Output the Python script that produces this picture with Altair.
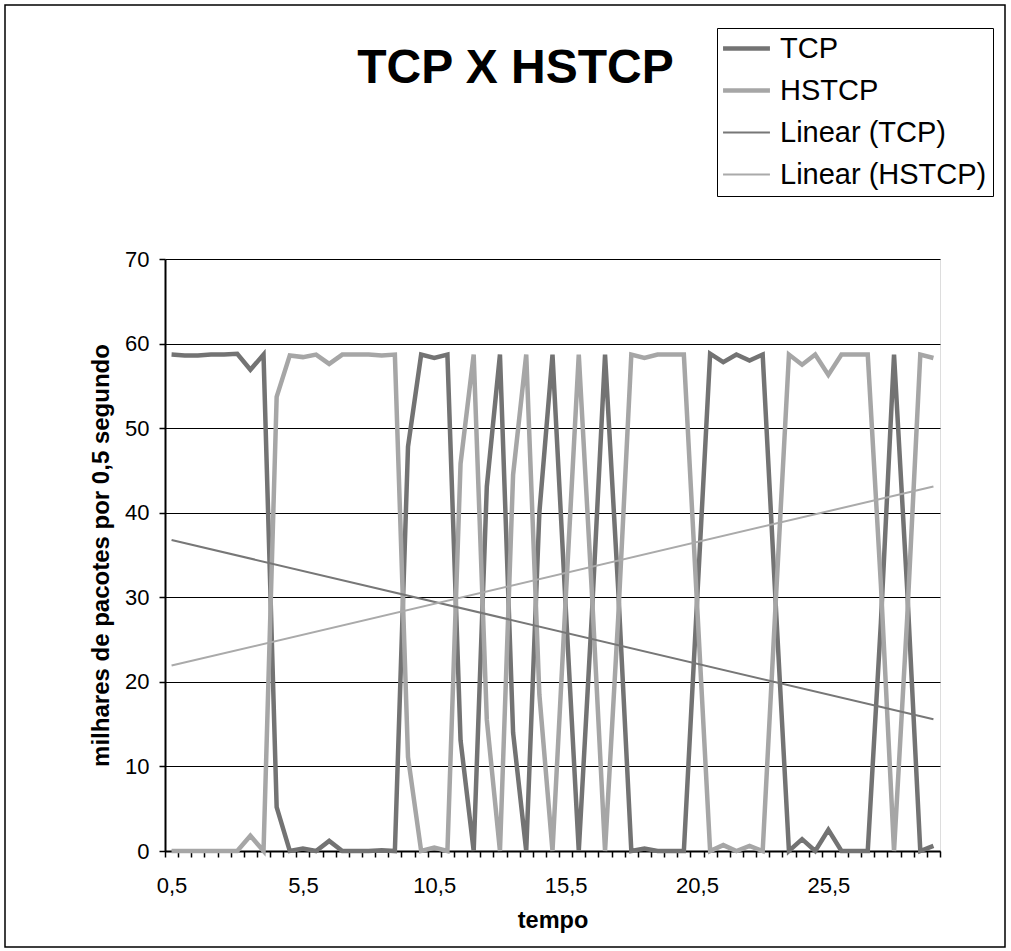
import altair as alt
import pandas as pd

# categories (tempo, seconds)
tempo = [0.5, 1.0, 1.5, 2.0, 2.5, 3.0, 3.5, 4.0, 4.5, 5.0,
         5.5, 6.0, 6.5, 7.0, 7.5, 8.0, 8.5, 9.0, 9.5, 10.0,
         10.5, 11.0, 11.5, 12.0, 12.5, 13.0, 13.5, 14.0, 14.5, 15.0,
         15.5, 16.0, 16.5, 17.0, 17.5, 18.0, 18.5, 19.0, 19.5, 20.0,
         20.5, 21.0, 21.5, 22.0, 22.5, 23.0, 23.5, 24.0, 24.5, 25.0,
         25.5, 26.0, 26.5, 27.0, 27.5, 28.0, 28.5, 29.0, 29.5]

tcp = [58.7, 58.6, 58.6, 58.7, 58.7, 58.8, 56.9, 58.7, 5.2, 0.0,
       0.3, 0.0, 1.2, 0.0, 0.0, 0.0, 0.1, 0.0, 47.8, 58.7,
       58.3, 58.7, 13.1, 0.0, 43.1, 58.7, 14.0, 0.0, 40.0, 58.7,
       29.0, 0.0, 28.0, 58.7, 31.0, 0.0, 0.3, 0.0, 0.0, 0.0,
       29.4, 58.8, 57.8, 58.7, 58.0, 58.7, 29.0, 0.0, 1.4, 0.0,
       2.5, 0.0, 0.0, 0.0, 27.0, 58.7, 31.0, 0.0, 0.6]

hstcp = [0.0, 0.0, 0.0, 0.0, 0.0, 0.0, 1.8, 0.0, 53.7, 58.6,
         58.4, 58.7, 57.6, 58.7, 58.7, 58.7, 58.6, 58.7, 11.1, 0.0,
         0.4, 0.0, 45.8, 58.7, 15.5, 0.0, 44.5, 58.7, 18.5, 0.0,
         29.7, 58.7, 30.5, 0.0, 27.5, 58.7, 58.3, 58.7, 58.7, 58.7,
         29.3, 0.0, 0.7, 0.0, 0.6, 0.0, 29.6, 58.7, 57.5, 58.7,
         56.3, 58.7, 58.7, 58.7, 31.5, 0.0, 27.5, 58.7, 58.3]

series_names = ["TCP", "HSTCP", "Linear (TCP)", "Linear (HSTCP)"]
series_colors = ["#737373", "#a6a6a6", "#777777", "#aaaaaa"]

x_label_values = [0.5, 5.5, 10.5, 15.5, 20.5, 25.5]
x_tick_values = [0.25 + 0.5 * k for k in range(60)]
y_values = [0, 10, 20, 30, 40, 50, 60, 70]

rows = []
for t, a, b in zip(tempo, tcp, hstcp):
    rows.append({"tempo": t, "valor": a, "serie": "TCP"})
    rows.append({"tempo": t, "valor": b, "serie": "HSTCP"})
df = pd.DataFrame(rows)

FONT = "Liberation Sans"

xscale = alt.Scale(domain=[0.25, 29.75], nice=False, zero=False)
yscale = alt.Scale(domain=[0, 70], nice=False)

color = alt.Color(
    "serie:N",
    scale=alt.Scale(domain=series_names, range=series_colors),
    legend=alt.Legend(
        title=None, orient="none", legendX=552, legendY=-231,
        strokeColor="black", fillColor="white", padding=6,
        labelFont=FONT, labelFontSize=29, labelColor="black",
        symbolType="stroke", symbolSize=2200, rowPadding=12,
        symbolOffset=9, labelOffset=19, labelLimit=400,
        symbolStrokeWidth={"expr": "indexof(['TCP','HSTCP'], datum.value) >= 0 ? 4.5 : 2"},
    ),
)

lines = alt.Chart(df).mark_line(strokeJoin="miter", strokeWidth=4.5).encode(
    x=alt.X("tempo:Q", scale=xscale,
            axis=alt.Axis(values=x_label_values, ticks=False, grid=False,
                          labelExpr="replace(format(datum.value, '.1f'), '.', ',')",
                          labelFont=FONT, labelFontSize=22, labelColor="black",
                          labelPadding=24, domainColor="black", domainWidth=2,
                          title="tempo", titleFont=FONT, titleFontSize=23.5,
                          titleFontWeight="bold", titleColor="black",
                          titlePadding=12, orient="bottom")),
    y=alt.Y("valor:Q", scale=yscale,
            axis=alt.Axis(values=y_values, grid=True, gridColor="black",
                          gridWidth=1, tickColor="black", tickSize=6,
                          tickWidth=1.5, domainColor="black", domainWidth=2,
                          labelFont=FONT, labelFontSize=22, labelColor="black",
                          labelPadding=10,
                          title="milhares de pacotes por 0,5 segundo",
                          titleFont=FONT, titleFontSize=24, titleFontWeight="bold",
                          titleColor="black", titlePadding=11)),
    color=color,
    detail="serie:N",
)

trend = alt.Chart(df).transform_regression(
    "tempo", "valor", groupby=["serie"], method="linear"
).transform_calculate(
    serie="'Linear (' + datum.serie + ')'"
).mark_line(strokeWidth=2).encode(
    x=alt.X("tempo:Q", scale=xscale,
            axis=alt.Axis(values=x_tick_values, labels=False, ticks=True,
                          tickSize=6, tickColor="black", tickWidth=1.5,
                          domain=False, grid=False, title=None, orient="bottom")),
    y=alt.Y("valor:Q", scale=yscale),
    color=color,
)

frame = alt.Chart(alt.Data(values=[{"k": 1}])).mark_rect(
    fill=None, stroke="black", strokeWidth=1.5
).encode(
    x=alt.value(-160), x2=alt.value(840), y=alt.value(-254), y2=alt.value(688)
)

chart = alt.layer(frame, lines, trend).resolve_axis(x="independent").properties(
    width=775, height=592,
    padding={"left": 165, "top": 259, "right": 71, "bottom": 100},
    autosize=alt.AutoSizeParams(type="none"),
    title=alt.TitleParams("TCP X HSTCP", font=FONT, fontSize=48,
                          fontWeight="bold", color="black", anchor="middle",
                          frame="group", dx=-37, offset=-89),
).configure_view(stroke="black", strokeWidth=1).configure(background="white")

chart.save("out.html", embed_options={"renderer": "svg", "actions": False})
